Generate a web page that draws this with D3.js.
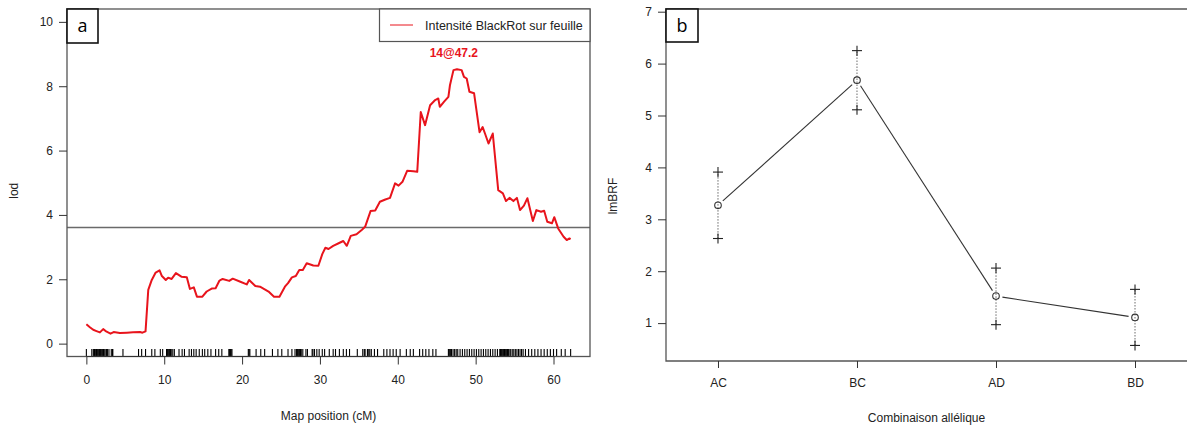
<!DOCTYPE html>
<html><head><meta charset="utf-8">
<script src="https://cdn.jsdelivr.net/npm/d3@7"></script>
<style>
html,body{margin:0;padding:0;background:#fff;}
svg{display:block;}
text{font-family:"Liberation Sans",Arial,sans-serif;fill:#222;}
</style></head>
<body>
<svg id="chart" width="1187" height="427"></svg>
<script>
// ---------- DATA ----------
// Panel a: LOD profile (position cM, LOD)
const lodProfile = [[0,0.60],[0.45,0.51],[0.88,0.43],[1.3,0.39],[1.74,0.35],[2.16,0.45],[2.6,0.37],[3.1,0.31],[3.5,0.36],[4.3,0.33],[5.2,0.34],[6.0,0.35],[6.9,0.36],[7.2,0.34],[7.6,0.38],[7.95,1.67],[8.4,1.98],[8.9,2.21],[9.4,2.28],[9.7,2.10],[10.2,1.98],[10.5,2.05],[10.95,2.01],[11.5,2.19],[12.2,2.08],[12.9,2.06],[13.3,1.70],[13.8,1.75],[14.2,1.46],[14.9,1.46],[15.45,1.62],[16.1,1.71],[16.6,1.72],[17.1,1.96],[17.5,2.01],[18.35,1.95],[18.8,2.02],[19.7,1.93],[20.6,1.84],[20.9,1.98],[21.7,1.79],[22.3,1.77],[23.4,1.62],[24.1,1.46],[24.8,1.46],[25.5,1.77],[25.9,1.88],[26.4,2.06],[26.9,2.10],[27.35,2.29],[27.8,2.29],[28.3,2.50],[29.15,2.43],[29.8,2.42],[30.3,2.78],[30.7,2.98],[31.1,2.94],[31.7,3.04],[32.4,3.12],[33.0,3.19],[33.45,3.04],[33.96,3.35],[34.7,3.40],[35.4,3.54],[35.8,3.63],[36.5,4.12],[37.1,4.14],[37.7,4.41],[38.4,4.48],[39.0,4.53],[39.65,4.98],[40.1,4.91],[40.6,5.03],[41.2,5.37],[42.0,5.36],[42.5,5.34],[42.95,7.20],[43.5,6.79],[44.15,7.41],[44.8,7.57],[45.2,7.62],[45.4,7.36],[45.95,7.52],[46.5,7.67],[46.7,8.03],[47.15,8.50],[47.6,8.53],[48.2,8.50],[48.5,8.29],[48.85,8.24],[49.2,7.83],[49.8,7.78],[50.5,6.57],[50.9,6.73],[51.2,6.53],[51.65,6.22],[52.2,6.53],[52.9,4.77],[53.5,4.67],[53.9,4.43],[54.35,4.53],[54.85,4.43],[55.3,4.53],[55.7,4.15],[56.2,4.29],[56.65,4.52],[57.35,3.81],[57.8,4.15],[58.4,4.10],[58.8,4.13],[59.2,3.79],[59.8,3.74],[60.1,3.93],[60.6,3.58],[61.3,3.32],[61.7,3.22],[62.05,3.27],[62.2,3.25]];
const markerPos = [0.0,0.7,0.9,1.05,1.15,1.3,1.4,1.5,1.6,1.7,1.8,1.9,2.0,2.1,2.2,2.3,2.5,2.6,2.7,2.9,3.2,3.35,3.4,4.7,6.7,7.1,7.6,8.4,8.8,9.5,9.8,10.3,10.4,10.5,10.6,10.7,10.8,10.9,11.1,11.3,11.9,12.3,12.6,13.2,13.5,13.8,14.1,14.5,14.9,15.2,15.6,16.0,16.6,17.0,17.4,18.3,18.4,18.5,18.6,18.7,20.8,20.9,21.0,21.8,22.4,22.9,23.9,24.6,25.1,25.9,26.4,26.8,27.0,27.1,27.2,27.3,27.4,27.5,27.6,27.8,28.2,28.4,29.0,29.1,29.3,29.6,29.9,30.3,30.6,31.2,31.7,32.0,32.5,33.0,33.4,33.8,34.8,35.5,35.7,35.8,36.1,36.2,36.4,36.6,37.0,37.4,38.2,38.6,39.0,39.4,39.8,40.3,41.1,41.6,42.0,42.8,43.2,43.6,44.0,44.5,44.9,46.5,46.6,46.7,46.8,46.9,47.1,47.3,47.5,47.7,48.0,48.3,48.6,48.9,49.2,49.5,49.8,50.1,50.4,50.7,51.0,51.3,51.6,51.9,52.2,52.5,52.8,53.1,53.2,53.3,53.4,53.5,53.6,53.7,53.8,53.9,54.0,54.1,54.2,54.3,54.5,54.7,54.9,55.1,55.3,55.5,55.7,55.9,56.1,56.4,56.8,57.2,57.6,58.0,58.4,58.8,59.2,59.6,60.0,60.4,61.0,61.5,62.2];
const lodThreshold = 3.61;
const peakLabel = "14@47.2";
const peakPos = 47.2;
const xTicksA = [0,10,20,30,40,50,60];
const yTicksA = [0,2,4,6,8,10];
const legendLabel = "Intensité BlackRot sur feuille";

// Panel b: allele combinations
const genotypes = ["AC","BC","AD","BD"];
const meanVals  = [3.27,5.68,1.52,1.11];
const upperVals = [3.91,6.25,2.06,1.65];
const lowerVals = [2.63,5.11,0.97,0.57];
const yTicksB = [1,2,3,4,5,6,7];

// ---------- LAYOUT ----------
const svg = d3.select("#chart");
const axisCol = "#333";
const A = {l:67, r:590, t:9, b:356.5};
const B = {l:666, r:1187, t:9, b:361};

// ---------- PANEL A ----------
const xA = d3.scaleLinear().domain([-2.488, 64.688]).range([A.l, A.r]);
const yA = d3.scaleLinear().domain([-0.4, 10.4]).range([A.b, A.t]);
const gA = svg.append("g");

svg.append("clipPath").attr("id","clipA").append("rect")
  .attr("x",A.l).attr("y",A.t).attr("width",A.r-A.l).attr("height",A.b-A.t);

// threshold line
gA.append("line").attr("x1",A.l).attr("x2",A.r)
  .attr("y1",yA(lodThreshold)).attr("y2",yA(lodThreshold))
  .attr("stroke","#6a6a6a").attr("stroke-width",1.5);

// rug
gA.append("g").selectAll("line").data(markerPos).join("line")
  .attr("x1",d=>xA(d)).attr("x2",d=>xA(d))
  .attr("y1",A.b).attr("y2",A.b-7.5)
  .attr("stroke","#000").attr("stroke-width",1.1);

// LOD curve
gA.append("path").datum(lodProfile)
  .attr("clip-path","url(#clipA)")
  .attr("d",d3.line().x(d=>xA(d[0])).y(d=>yA(d[1])))
  .attr("fill","none").attr("stroke","#e8141c").attr("stroke-width",2)
  .attr("stroke-linejoin","round");

// box
gA.append("rect").attr("x",A.l).attr("y",A.t).attr("width",A.r-A.l).attr("height",A.b-A.t)
  .attr("fill","none").attr("stroke","#555").attr("stroke-width",1.3);

// axes
const axA_x = d3.axisBottom(xA).tickValues(xTicksA).tickSize(8).tickPadding(11).tickFormat(d3.format("d"));
gA.append("g").attr("transform",`translate(0,${A.b})`).call(axA_x)
  .call(g=>{g.select(".domain").attr("stroke",axisCol).attr("d",`M${xA(0)},0H${xA(60)}`);
    g.selectAll(".tick line").attr("stroke",axisCol);
    g.selectAll(".tick text").attr("font-size",12).attr("font-family","Liberation Sans, Arial, sans-serif").attr("fill","#222");});
const axA_y = d3.axisLeft(yA).tickValues(yTicksA).tickSize(8).tickPadding(6).tickFormat(d3.format("d"));
gA.append("g").attr("transform",`translate(${A.l},0)`).call(axA_y)
  .call(g=>{g.select(".domain").remove();
    g.selectAll(".tick line").attr("stroke",axisCol);
    g.selectAll(".tick text").attr("font-size",12).attr("font-family","Liberation Sans, Arial, sans-serif").attr("fill","#222");});

// axis titles
gA.append("text").attr("x",(A.l+A.r)/2).attr("y",420).attr("text-anchor","middle")
  .attr("font-size",12).text("Map position (cM)");
gA.append("text").attr("transform",`translate(18,${(A.t+A.b)/2+8}) rotate(-90)`)
  .attr("text-anchor","middle").attr("font-size",12).text("lod");

// legend
gA.append("rect").attr("x",379.5).attr("y",A.t).attr("width",A.r-379.5).attr("height",32.5)
  .attr("fill","#fff").attr("stroke","#555").attr("stroke-width",1.2);
gA.append("line").attr("x1",390).attr("x2",413).attr("y1",25).attr("y2",25)
  .attr("stroke","#e8141c").attr("stroke-width",1);
gA.append("text").attr("x",425).attr("y",29.5).attr("font-size",12.5).text(legendLabel);

// peak label
gA.append("text").attr("x",xA(peakPos)).attr("y",56.5).attr("text-anchor","middle")
  .attr("font-size",12).attr("font-weight","bold").style("fill","#e8141c").text(peakLabel);

// panel tag
gA.append("rect").attr("x",A.l).attr("y",A.t).attr("width",31).attr("height",34)
  .attr("fill","#fff").attr("stroke","#111").attr("stroke-width",1.6);
gA.append("text").attr("x",A.l+15.5).attr("y",A.t+23).attr("text-anchor","middle")
  .attr("font-size",18).style("font-family","'Open Sans','DejaVu Sans',sans-serif").style("fill","#000").text("a");

// ---------- PANEL B ----------
const xB = d3.scaleLinear().domain([0.626, 4.374]).range([B.l, B.r]);
const yB = d3.scaleLinear().domain([0.27, 7.052]).range([B.b, B.t]);
const gB = svg.append("g");
const pts = genotypes.map((g,i)=>({g, x:xB(i+1), m:meanVals[i], u:upperVals[i], lo:lowerVals[i]}));

// dotted error bars
gB.selectAll(".err").data(pts).join("line")
  .attr("x1",d=>d.x).attr("x2",d=>d.x)
  .attr("y1",d=>yB(d.lo)).attr("y2",d=>yB(d.u))
  .attr("stroke","#444").attr("stroke-width",1).attr("stroke-dasharray","1.2,1.8");

// connecting line with gaps (type="b")
for(let i=0;i<pts.length-1;i++){
  const x1=pts[i].x, y1=yB(pts[i].m), x2=pts[i+1].x, y2=yB(pts[i+1].m);
  const len=Math.hypot(x2-x1,y2-y1), gap=6.5;
  const ux=(x2-x1)/len, uy=(y2-y1)/len;
  gB.append("line").attr("x1",x1+ux*gap).attr("y1",y1+uy*gap)
    .attr("x2",x2-ux*gap).attr("y2",y2-uy*gap)
    .attr("stroke","#333").attr("stroke-width",1.1);
}

// circles
gB.selectAll(".pt").data(pts).join("circle")
  .attr("cx",d=>d.x).attr("cy",d=>yB(d.m)).attr("r",3.3)
  .attr("fill","none").attr("stroke","#333").attr("stroke-width",1.1);

// plus marks
const plusData = pts.flatMap(d=>[{x:d.x,v:d.u},{x:d.x,v:d.lo}]);
const plus = gB.selectAll(".plus").data(plusData).join("g")
  .attr("transform",d=>`translate(${d.x},${yB(d.v)})`);
plus.append("line").attr("x1",-5).attr("x2",5).attr("y1",0).attr("y2",0).attr("stroke","#222").attr("stroke-width",1.1);
plus.append("line").attr("x1",0).attr("x2",0).attr("y1",-5).attr("y2",5).attr("stroke","#222").attr("stroke-width",1.1);

// box lines (left, top, bottom)
gB.append("path").attr("d",`M${B.r+2},${B.t}H${B.l}V${B.b}H${B.r+2}`)
  .attr("fill","none").attr("stroke","#555").attr("stroke-width",1.3);

// axes
const axB_x = d3.axisBottom(xB).tickValues([1,2,3,4]).tickSize(7).tickPadding(10).tickFormat((d,i)=>genotypes[i]);
gB.append("g").attr("transform",`translate(0,${B.b})`).call(axB_x)
  .call(g=>{g.select(".domain").remove();
    g.selectAll(".tick line").attr("stroke",axisCol);
    g.selectAll(".tick text").attr("font-size",12).attr("font-family","Liberation Sans, Arial, sans-serif").attr("fill","#222");});
const axB_y = d3.axisLeft(yB).tickValues(yTicksB).tickSize(8).tickPadding(6).tickFormat(d3.format("d"));
gB.append("g").attr("transform",`translate(${B.l},0)`).call(axB_y)
  .call(g=>{g.select(".domain").remove();
    g.selectAll(".tick line").attr("stroke",axisCol);
    g.selectAll(".tick text").attr("font-size",12).attr("font-family","Liberation Sans, Arial, sans-serif").attr("fill","#222");});

gB.append("text").attr("x",(B.l+B.r)/2).attr("y",422).attr("text-anchor","middle")
  .attr("font-size",12).text("Combinaison allélique");
gB.append("text").attr("transform",`translate(617,196) rotate(-90)`)
  .attr("text-anchor","middle").attr("font-size",12).text("lmBRF");

// panel tag b
gB.append("rect").attr("x",B.l).attr("y",B.t).attr("width",32).attr("height",33)
  .attr("fill","#fff").attr("stroke","#111").attr("stroke-width",1.6);
gB.append("text").attr("x",B.l+16).attr("y",B.t+23).attr("text-anchor","middle")
  .attr("font-size",18).style("font-family","'Open Sans','DejaVu Sans',sans-serif").style("fill","#000").text("b");
</script>
</body></html>
